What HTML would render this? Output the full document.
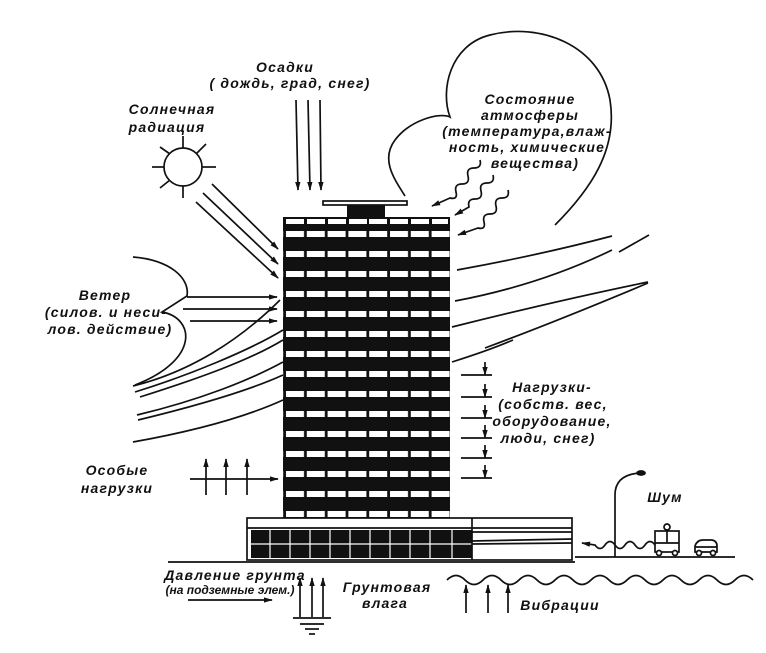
<!DOCTYPE html>
<html><head><meta charset="utf-8"><style>
html,body{margin:0;padding:0;background:#fff}
svg{display:block}
text{font-family:"Liberation Sans","DejaVu Sans",sans-serif;font-style:italic;font-weight:bold;font-size:14px;fill:#111;letter-spacing:1.2px}
</style></head><body>
<svg width="766" height="653" viewBox="0 0 766 653" xmlns="http://www.w3.org/2000/svg">
<defs>
<marker id="a" viewBox="0 0 10 10" refX="9" refY="5" markerWidth="9" markerHeight="9" orient="auto-start-reverse" markerUnits="userSpaceOnUse"><path d="M0,2 L10,5 L0,8 Z" fill="#111"/></marker>
<pattern id="win" x="285" y="231" width="20.8" height="20" patternUnits="userSpaceOnUse"><rect x="1" y="0" width="18" height="6" fill="#fff"/></pattern>
</defs>
<g fill="none" stroke="#111" stroke-width="1.7">
<rect x="283" y="217" width="167" height="301" fill="#111" stroke="none"/>
<rect x="283" y="231" width="167" height="287" fill="url(#win)" stroke="none"/>
<g fill="#fff" stroke="none">
<rect x="286" y="219" width="18" height="5"/><rect x="307" y="219" width="18" height="5"/><rect x="328" y="219" width="18" height="5"/><rect x="349" y="219" width="18" height="5"/><rect x="369" y="219" width="18" height="5"/><rect x="390" y="219" width="18" height="5"/><rect x="411" y="219" width="18" height="5"/><rect x="432" y="219" width="16" height="5"/>
</g>
<rect x="323" y="201" width="84" height="4" fill="#fff"/>
<rect x="347" y="205" width="38" height="12" fill="#111" stroke="none"/>
<rect x="247" y="518" width="325" height="42" fill="#fff"/>
<line x1="247" y1="528" x2="572" y2="528"/>
<rect x="251" y="530" width="221" height="28" fill="#111" stroke="none"/>
<g stroke="#fff" stroke-width="1.2">
<line x1="251" y1="544" x2="472" y2="544"/>
<line x1="270" y1="530" x2="270" y2="558"/><line x1="290" y1="530" x2="290" y2="558"/><line x1="310" y1="530" x2="310" y2="558"/><line x1="330" y1="530" x2="330" y2="558"/><line x1="350" y1="530" x2="350" y2="558"/><line x1="370" y1="530" x2="370" y2="558"/><line x1="390" y1="530" x2="390" y2="558"/><line x1="410" y1="530" x2="410" y2="558"/><line x1="430" y1="530" x2="430" y2="558"/><line x1="452" y1="530" x2="452" y2="558"/>
</g>
<line x1="472" y1="518" x2="472" y2="560"/>
<line x1="472" y1="532" x2="572" y2="532"/><line x1="472" y1="541" x2="572" y2="539"/><line x1="472" y1="544" x2="572" y2="543"/>
<line x1="168" y1="562" x2="575" y2="562"/>
<line x1="575" y1="557" x2="735" y2="557"/>
<circle cx="183" cy="167" r="19"/>
<line x1="183" y1="136" x2="183" y2="148"/><line x1="183" y1="186" x2="183" y2="198"/>
<line x1="152" y1="167" x2="164" y2="167"/><line x1="202" y1="167" x2="216" y2="167"/>
<line x1="160" y1="147" x2="170" y2="154"/><line x1="206" y1="144" x2="196" y2="154"/>
<line x1="160" y1="188" x2="170" y2="180"/>
<line x1="212" y1="184" x2="278" y2="249" marker-end="url(#a)"/>
<line x1="203" y1="193" x2="278" y2="264" marker-end="url(#a)"/>
<line x1="196" y1="202" x2="278" y2="278" marker-end="url(#a)"/>
<line x1="296" y1="100" x2="298" y2="190" marker-end="url(#a)"/>
<line x1="308" y1="100" x2="310" y2="190" marker-end="url(#a)"/>
<line x1="320" y1="100" x2="321" y2="190" marker-end="url(#a)"/>
<path d="M405,196 C395,180 380,160 395,140 C410,120 440,112 450,117 C440,90 450,45 490,35 C540,22 600,45 610,100 C618,150 590,190 555,225"/>
<path d="M480,160 q2,8 -6,8 q-8,0 -6,8 q2,8 -6,8 q-8,0 -6,8 q2,8 -6,6 L432,206" marker-end="url(#a)"/>
<path d="M493,175 q2,8 -6,8 q-8,0 -6,8 q2,8 -6,8 q-8,0 -6,8 L455,215" marker-end="url(#a)"/>
<path d="M508,190 q2,8 -6,8 q-8,0 -6,8 q2,8 -6,8 q-8,0 -6,8 q2,8 -6,6 L458,235" marker-end="url(#a)"/>
<path d="M457,270 Q540,255 612,236"/>
<line x1="619" y1="252" x2="649" y2="235"/>
<path d="M452,327 Q560,300 648,282"/>
<path d="M485,348 Q560,320 648,283"/>
<path d="M452,362 Q490,350 513,340"/>
<path d="M455,301 Q540,285 612,250"/>
<path d="M133,257 C170,260 190,278 187,296 L162,312 C195,318 200,360 135,385"/>
<line x1="187" y1="297" x2="277" y2="297" marker-end="url(#a)"/>
<line x1="183" y1="309" x2="277" y2="309" marker-end="url(#a)"/>
<line x1="190" y1="321" x2="277" y2="321" marker-end="url(#a)"/>
<path d="M133,386 C190,372 240,340 280,300"/>
<path d="M135,392 C190,375 250,350 283,330"/>
<path d="M140,397 C200,378 250,360 283,340"/>
<path d="M137,415 C200,400 250,380 283,362"/>
<path d="M138,420 C200,405 250,390 283,375"/>
<path d="M133,442 C200,430 250,415 283,400"/>
<line x1="206" y1="495" x2="206" y2="459" marker-end="url(#a)"/>
<line x1="226" y1="495" x2="226" y2="459" marker-end="url(#a)"/>
<line x1="247" y1="495" x2="247" y2="459" marker-end="url(#a)"/>
<line x1="190" y1="479" x2="278" y2="479" marker-end="url(#a)"/>
<g>
<line x1="461" y1="375" x2="492" y2="375"/><line x1="485" y1="362" x2="485" y2="375" marker-end="url(#a)"/>
<line x1="461" y1="397" x2="492" y2="397"/><line x1="485" y1="384" x2="485" y2="397" marker-end="url(#a)"/>
<line x1="461" y1="418" x2="492" y2="418"/><line x1="485" y1="405" x2="485" y2="418" marker-end="url(#a)"/>
<line x1="461" y1="438" x2="492" y2="438"/><line x1="485" y1="425" x2="485" y2="438" marker-end="url(#a)"/>
<line x1="461" y1="458" x2="492" y2="458"/><line x1="485" y1="445" x2="485" y2="458" marker-end="url(#a)"/>
<line x1="461" y1="478" x2="492" y2="478"/><line x1="485" y1="465" x2="485" y2="478" marker-end="url(#a)"/>
</g>
<path d="M615,557 L615,495 C615,480 625,474 640,473"/>
<ellipse cx="641" cy="473" rx="4" ry="2" fill="#111"/>
<path d="M655,545 q-5,-7 -10,0 q-5,7 -10,0 q-5,-7 -10,0 q-5,7 -10,0 q-5,-7 -10,0 q-5,7 -10,0 L582,543" marker-end="url(#a)"/>
<rect x="655" y="531" width="24" height="21" fill="#fff"/>
<line x1="667" y1="531" x2="667" y2="543"/><line x1="655" y1="543" x2="679" y2="543"/>
<circle cx="667" cy="527" r="3"/>
<circle cx="659" cy="553" r="2.5" fill="#fff"/><circle cx="675" cy="553" r="2.5" fill="#fff"/>
<path d="M695,552 L695,546 Q697,540 703,540 L712,540 Q717,541 717,546 L717,552 Z"/>
<line x1="695" y1="547" x2="717" y2="547"/>
<circle cx="699" cy="553" r="2.5" fill="#fff"/><circle cx="713" cy="553" r="2.5" fill="#fff"/>
<line x1="188" y1="600" x2="272" y2="600" marker-end="url(#a)"/>
<line x1="300" y1="617" x2="300" y2="578" marker-end="url(#a)"/>
<line x1="312" y1="617" x2="312" y2="578" marker-end="url(#a)"/>
<line x1="323" y1="617" x2="323" y2="578" marker-end="url(#a)"/>
<line x1="293" y1="618" x2="331" y2="618"/>
<line x1="300" y1="624" x2="324" y2="624"/>
<line x1="305" y1="629" x2="319" y2="629"/>
<line x1="309" y1="634" x2="315" y2="634"/>
<path d="M447,580 q9,-9 18,0 q9,9 18,0 q9,-9 18,0 q9,9 18,0 q9,-9 18,0 q9,9 18,0 q9,-9 18,0 q9,9 18,0 q9,-9 18,0 q9,9 18,0 q9,-9 18,0 q9,9 18,0 q9,-9 18,0 q9,9 18,0 q9,-9 18,0 q9,9 18,0 q9,-9 18,0"/>
<line x1="466" y1="613" x2="466" y2="585" marker-end="url(#a)"/>
<line x1="488" y1="613" x2="488" y2="585" marker-end="url(#a)"/>
<line x1="508" y1="613" x2="508" y2="585" marker-end="url(#a)"/>
</g>
<text x="285" y="72" text-anchor="middle">Осадки</text>
<text x="290" y="88" text-anchor="middle">( дождь, град, снег)</text>
<text x="172" y="114" text-anchor="middle">Солнечная</text>
<text x="167" y="132" text-anchor="middle">радиация</text>
<text x="530" y="104" text-anchor="middle">Состояние</text>
<text x="530" y="120" text-anchor="middle">атмосферы</text>
<text x="527" y="136" text-anchor="middle">(температура,влаж-</text>
<text x="527" y="152" text-anchor="middle">ность, химические</text>
<text x="535" y="168" text-anchor="middle">вещества)</text>
<text x="105" y="300" text-anchor="middle">Ветер</text>
<text x="106" y="317" text-anchor="middle">(силов. и неси-</text>
<text x="110" y="334" text-anchor="middle">лов. действие)</text>
<text x="117" y="475" text-anchor="middle">Особые</text>
<text x="117" y="493" text-anchor="middle">нагрузки</text>
<text x="552" y="392" text-anchor="middle">Нагрузки-</text>
<text x="553" y="409" text-anchor="middle">(собств. вес,</text>
<text x="552" y="426" text-anchor="middle">оборудование,</text>
<text x="548" y="443" text-anchor="middle">люди, снег)</text>
<text x="665" y="502" text-anchor="middle">Шум</text>
<text x="235" y="580" text-anchor="middle" style="font-size:14px">Давление грунта</text>
<text x="230" y="594" text-anchor="middle" style="font-size:12px;letter-spacing:0">(на подземные элем.)</text>
<text x="387" y="592" text-anchor="middle">Грунтовая</text>
<text x="385" y="608" text-anchor="middle">влага</text>
<text x="560" y="610" text-anchor="middle">Вибрации</text>
</svg>
</body></html>
